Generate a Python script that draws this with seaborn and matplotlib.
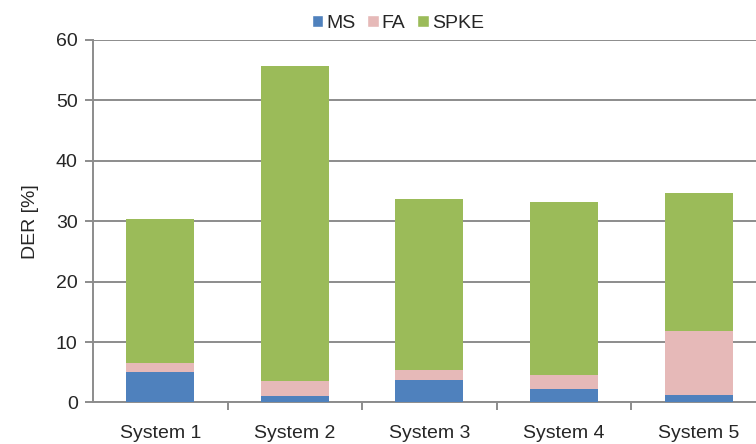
import matplotlib
matplotlib.use("Agg")
import matplotlib.pyplot as plt
import seaborn as sns
import pandas as pd
import numpy as np
from matplotlib.patches import Patch

categories = ["System 1", "System 2", "System 3", "System 4", "System 5"]
ms = [5.0, 1.1, 3.8, 2.3, 1.2]
fa = [1.5, 2.4, 1.5, 2.2, 10.7]
spke = [23.8, 52.2, 28.4, 28.6, 22.8]

colors = {"MS": "#4F81BD", "FA": "#E6B9B8", "SPKE": "#9BBB59"}

sns.set_theme(style="white")
plt.rcParams['font.family'] = ['Liberation Sans', 'DejaVu Sans']

ms_a = np.array(ms)
fa_a = np.array(fa)
sp_a = np.array(spke)
df = pd.DataFrame({
    "cat": categories,
    "MS": ms_a,
    "MSFA": ms_a + fa_a,
    "TOT": ms_a + fa_a + sp_a,
})

fig = plt.figure(figsize=(7.56, 4.44), dpi=100)
ax = fig.add_axes([0.123, 0.0935, 0.89, 0.8165])

for col, name in [("TOT", "SPKE"), ("MSFA", "FA"), ("MS", "MS")]:
    sns.barplot(data=df, x="cat", y=col, color=colors[name], saturation=1,
                width=0.505, ax=ax, linewidth=0, zorder=3)

ax.set_ylim(0, 60)
ax.set_xlim(-0.5, 4.5)
ax.set_yticks(range(0, 61, 10))
ax.yaxis.grid(True, color="#8C8C8C", linewidth=1.4, zorder=0)
ax.set_axisbelow(True)
for s in ["top", "right"]:
    ax.spines[s].set_visible(False)
for s in ["left", "bottom"]:
    ax.spines[s].set_color("#8C8C8C")
    ax.spines[s].set_linewidth(1.4)

ax.set_xlabel("")
ax.set_ylabel("DER [%]", fontsize=14, labelpad=12)
ax.tick_params(axis="y", which="major", direction="out", length=6, width=1.4,
               color="#8C8C8C", left=True, labelsize=14, pad=5)
ax.tick_params(axis="x", which="major", length=0, labelsize=14, pad=16)
ax.set_xticks(np.arange(0.5, 4.5, 1.0), minor=True)
ax.tick_params(axis="x", which="minor", direction="out", length=6, width=1.4,
               color="#8C8C8C", bottom=True)

handles = [Patch(facecolor=colors[n], label=n) for n in ["MS", "FA", "SPKE"]]
fig.legend(handles=handles, loc="center", bbox_to_anchor=(0.526, 0.948), ncol=3,
           frameon=False, fontsize=14, handlelength=0.6, handleheight=0.62,
           handletextpad=0.15, columnspacing=0.6, borderpad=0.2)

fig.savefig("out.png", dpi=100)
